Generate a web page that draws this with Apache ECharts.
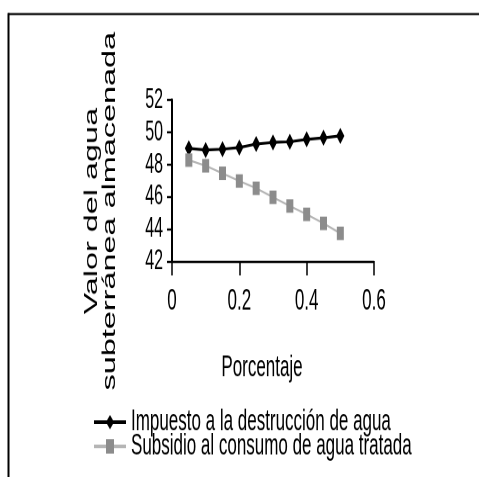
<!DOCTYPE html>
<html>
<head>
<meta charset="utf-8">
<script src="https://cdn.jsdelivr.net/npm/echarts@6/dist/echarts.min.js"></script>
<style>
html,body{margin:0;padding:0;background:#fff;overflow:hidden}
#wrap{width:479px;height:477px;overflow:hidden;background:#fff}
#c{width:479px;height:265px;transform:scaleY(1.8);transform-origin:0 0}
</style>
</head>
<body>
<div id="wrap"><div id="c"></div></div>
<script>
// Data
const porcentaje = [0.05, 0.10, 0.15, 0.20, 0.25, 0.30, 0.35, 0.40, 0.45, 0.50];
const impuesto   = [49.0, 48.9, 48.95, 49.05, 49.27, 49.37, 49.41, 49.56, 49.66, 49.78];
const subsidio   = [48.27, 47.92, 47.45, 46.97, 46.52, 45.96, 45.42, 44.9, 44.34, 43.72];
const seriesNames = ['Impuesto a la destrucción de agua', 'Subsidio al consumo de agua tratada'];
const xTicks = { min: 0, max: 0.6, interval: 0.2 };
const yTicks = { min: 42, max: 52, interval: 2 };
const xName = 'Porcentaje';
const yName = 'Valor del agua\nsubterránea almacenada';

const FONT = '"Liberation Sans", Arial, sans-serif';
const pairs = (xs, ys) => xs.map((x, i) => [x, ys[i]]);

const chart = echarts.init(document.getElementById('c'), null, { renderer: 'canvas', devicePixelRatio: 2 });
chart.setOption({
  backgroundColor: '#fff',
  animation: false,
  textStyle: { fontFamily: FONT, color: '#000' },
  graphic: [
    { type: 'line', shape: { x1: 8, y1: 7.8, x2: 479, y2: 7.8 }, style: { stroke: '#000', lineWidth: 1.2 } },
    { type: 'line', shape: { x1: 8.5, y1: 7.2, x2: 8.5, y2: 265 }, style: { stroke: '#000', lineWidth: 2 } }
  ],
  grid: { left: 172, right: 105, top: 55.6, bottom: 120, containLabel: false, outerBoundsMode: 'none' },
  xAxis: {
    type: 'value', min: xTicks.min, max: xTicks.max, interval: xTicks.interval,
    name: xName, nameLocation: 'middle', nameGap: 51,
    nameTextStyle: { fontFamily: FONT, fontSize: 17, color: '#000', padding: [0, 22, 0, 0] },
    axisLine: { show: true, onZero: false, lineStyle: { color: '#000', width: 1.2 } },
    axisTick: { show: true, inside: false, length: 8, lineStyle: { color: '#000', width: 1.5 } },
    axisLabel: { fontFamily: FONT, fontSize: 17, color: '#000', margin: 14,
      formatter: v => String(+v.toFixed(1)) },
    splitLine: { show: false }
  },
  yAxis: {
    type: 'value', min: yTicks.min, max: yTicks.max, interval: yTicks.interval,
    name: yName, nameLocation: 'middle', nameGap: 53,
    nameTextStyle: { fontFamily: FONT, fontSize: 18, lineHeight: 18, color: '#000', padding: [0, 34, 0, 0] },
    axisLine: { show: true, lineStyle: { color: '#000', width: 2 } },
    axisTick: { show: true, inside: false, length: 5, lineStyle: { color: '#000', width: 1.2 } },
    axisLabel: { fontFamily: FONT, fontSize: 16, color: '#000', margin: 9 },
    splitLine: { show: false }
  },
  legend: {
    orient: 'vertical', left: 88, top: 221, itemGap: -3.5, itemWidth: 32, itemHeight: 10,
    textStyle: { fontFamily: FONT, fontSize: 17, lineHeight: 17, color: '#000' },
    data: seriesNames
  },
  series: [
    {
      name: seriesNames[0], type: 'line', data: pairs(porcentaje, impuesto),
      symbol: 'diamond', symbolSize: [8, 9], showAllSymbol: true,
      itemStyle: { color: '#000' },
      lineStyle: { color: '#000', width: 1.6 }
    },
    {
      name: seriesNames[1], type: 'line', data: pairs(porcentaje, subsidio),
      symbol: 'rect', symbolSize: [7, 7.5], showAllSymbol: true,
      itemStyle: { color: '#8c8c8c' },
      lineStyle: { color: '#b5b5b5', width: 1.2 }
    }
  ]
});
</script>
</body>
</html>
